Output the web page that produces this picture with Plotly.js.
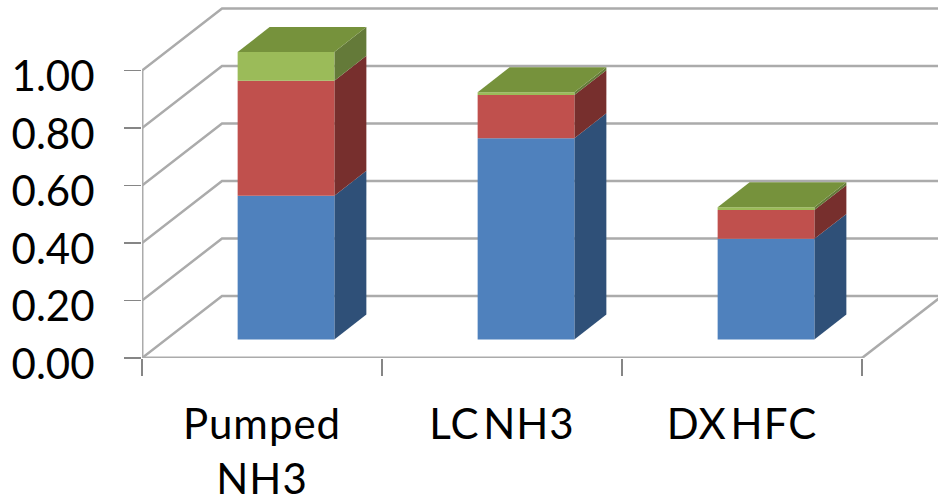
<!DOCTYPE html>
<html>
<head>
<meta charset="utf-8">
<script src="https://cdn.plot.ly/plotly-3.0.1.min.js"></script>
<style>html,body{margin:0;padding:0;background:#fff}
.xtick text{word-spacing:-8px;letter-spacing:1px}</style>
</head>
<body>
<div id="chart" style="width:938px;height:502px"></div>
<script>
var categories = ['Pumped<br>NH3', 'LC NH3', 'DX HFC'];
var seriesBlue = [0.50, 0.70, 0.35];
var seriesRed = [0.40, 0.15, 0.10];
var seriesGreen = [0.10, 0.01, 0.01];
var yTicks = [0, 0.2, 0.4, 0.6, 0.8, 1.0];
var frontColors = ['#4F81BD', '#C0504D', '#9BBB59'];
var sideColors = ['#2F5078', '#772F2D', '#647A39'];
var topColor = '#76923C';
var gridColor = '#ABABAB';

// oblique projection: one unit of depth in data units
var DX = 1 / 3, DY = 0.2157;
var BAR_W = 0.403, BAR_D0 = 0.3, BAR_D1 = 0.7;
var XMAX = 796 / 240, YMAX = 358 / 287.5;

function proj(x, y, d) { return [x + d * DX, y + d * DY]; }
function poly(points, color) {
  return {
    type: 'scatter', mode: 'lines', fill: 'toself', fillcolor: color,
    x: points.map(function (p) { return p[0]; }),
    y: points.map(function (p) { return p[1]; }),
    line: { width: 0, color: color }, hoverinfo: 'skip', showlegend: false
  };
}
function line(points, color, width) {
  return {
    type: 'scatter', mode: 'lines',
    x: points.map(function (p) { return p[0]; }),
    y: points.map(function (p) { return p[1]; }),
    line: { width: width, color: color }, hoverinfo: 'skip', showlegend: false
  };
}

var traces = [];
yTicks.forEach(function (v) {
  traces.push(line([proj(0, v, 0), proj(0, v, 1), proj(XMAX + 1, v, 1)], gridColor, 2.5));
});
traces.push(line([proj(3, 0, 0), proj(3, 0, 1.2)], gridColor, 2.5));
traces.push(line([proj(0, 0, 0), proj(3, 0, 0)], gridColor, 3));
traces.push(line([proj(0, 0, 0), proj(0, 1, 0)], gridColor, 3));

categories.forEach(function (c, i) {
  var x0 = i + 0.5 - BAR_W / 2 + BAR_D0 * DX - 0.0;
  var x1 = x0 + BAR_W;
  var stacks = [seriesBlue[i], seriesRed[i], seriesGreen[i]];
  var base = 0;
  var b0 = BAR_D0 * DY;
  stacks.forEach(function (val, s) {
    var y0 = base, y1 = base + val;
    traces.push(poly([
      proj(x1, y0 , 0), proj(x1, y0, BAR_D1 - BAR_D0), proj(x1, y1, BAR_D1 - BAR_D0), proj(x1, y1, 0)
    ].map(function (p) { return [p[0], p[1] + b0]; }), sideColors[s]));
    traces.push(poly([
      [x0, y0 + b0], [x1, y0 + b0], [x1, y1 + b0], [x0, y1 + b0]
    ], frontColors[s]));
    base = y1;
  });
  traces.push(poly([
    proj(x0, base, 0), proj(x1, base, 0), proj(x1, base, BAR_D1 - BAR_D0), proj(x0, base, BAR_D1 - BAR_D0)
  ].map(function (p) { return [p[0], p[1] + b0]; }), topColor));
});

var layout = {
  width: 938, height: 502,
  margin: { l: 142, r: 0, t: 0, b: 144 },
  paper_bgcolor: '#ffffff', plot_bgcolor: '#ffffff',
  showlegend: false,
  font: { family: 'Lato, sans-serif', color: '#000000', size: 38 },
  xaxis: {
    range: [0, XMAX], showgrid: false, zeroline: false, showline: false,
    tickmode: 'array', tickvals: [0.5, 1.5, 2.5], ticktext: categories,
    ticks: '', ticklabelstandoff: 38,
    tickfont: { family: 'Lato, sans-serif', size: 42 },
    minor: { tickmode: 'array', tickvals: [0, 1, 2, 3], ticks: 'outside', ticklen: 17, tickwidth: 1.5, tickcolor: '#868686', showgrid: false }
  },
  yaxis: {
    range: [0, YMAX], showgrid: false, zeroline: false, showline: false,
    tickmode: 'array', tickvals: yTicks, ticktext: yTicks.map(function (v) { return v.toFixed(2); }),
    ticks: 'outside', ticklen: 17, tickwidth: 1.5, tickcolor: '#868686',
    ticklabelstandoff: 21, ticklabelshift: 6,
    tickfont: { family: 'Lato, sans-serif', size: 42 }
  }
};
Plotly.newPlot('chart', traces, layout, { displayModeBar: false, staticPlot: true });
</script>
</body>
</html>
